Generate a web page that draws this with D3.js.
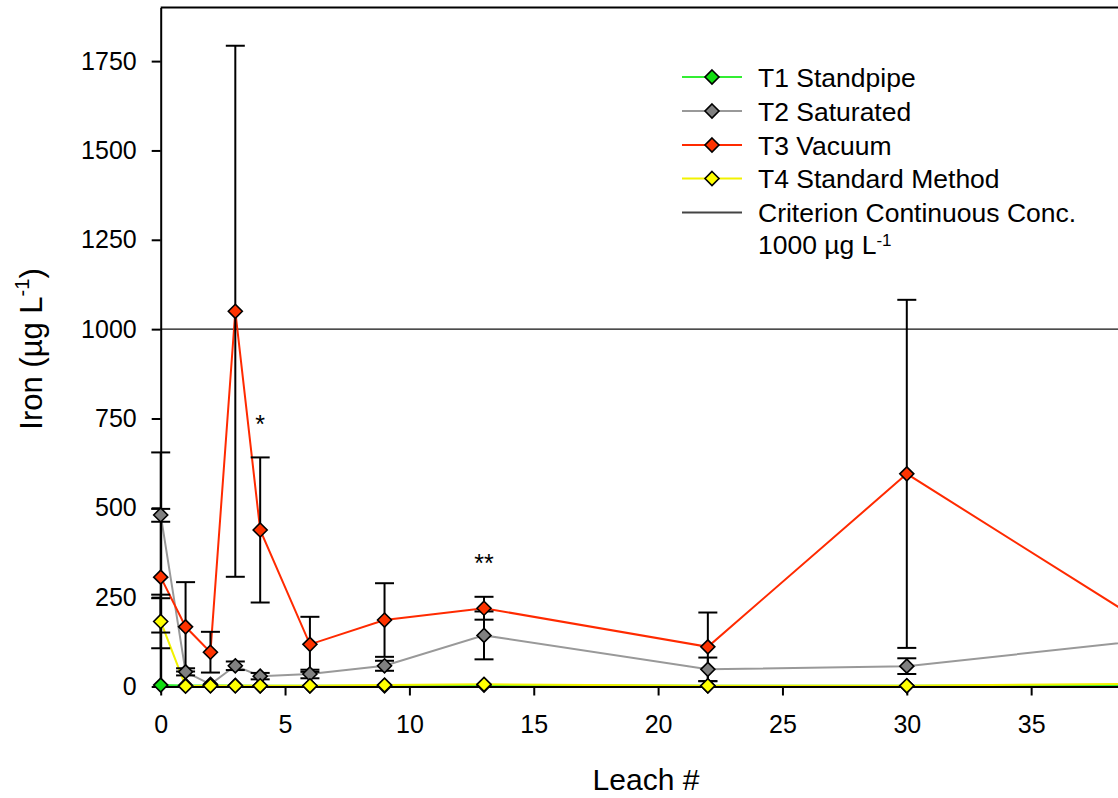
<!DOCTYPE html>
<html><head><meta charset="utf-8">
<script src="https://cdn.jsdelivr.net/npm/d3@7"></script>
<style>
html,body{margin:0;padding:0;background:#fff;}
svg{display:block;font-family:"Liberation Sans",Arial,Helvetica,sans-serif;}
</style></head>
<body>
<svg id="chart" width="1118" height="798"></svg>
<script>
// ---- data ----
const leach = [0, 1, 2, 3, 4, 6, 9, 13, 22, 30, 40];
const t1 = [4, 3, 3, 3, 2, 2, 2, 4, 2, 2, 4];
const t2 = [480, 41, 6, 58, 29, 35, 58, 143, 48, 57, 132];
const t3 = [306, 167, 96, 1050, 438, 118, 186, 219, 111, 595, 157];
const t4 = [182, 1, 2, 2, 2, 2, 4, 6, 2, 2, 8];
const t1ErrUp   = [243, 0, 0, 0, 0, 0, 0, 0, 0, 0, 0];
const t1ErrDown = [0, 0, 0, 0, 0, 0, 0, 0, 0, 0, 0];
const t2ErrUp   = [17, 10, 0, 12, 9, 12, 14, 67, 33, 22, 0];
const t2ErrDown = [19, 10, 0, 12, 9, 12, 14, 67, 33, 22, 0];
const t3ErrUp   = [349, 125, 57, 743, 203, 77, 103, 32, 96, 487, 0];
const t3ErrDown = [155, 125, 57, 743, 203, 77, 103, 32, 96, 487, 0];
const t4ErrUp   = [75, 0, 0, 0, 0, 0, 0, 0, 0, 0, 0];
const t4ErrDown = [75, 0, 0, 0, 0, 0, 0, 0, 0, 0, 0];
const seriesNames = ["T1 Standpipe", "T2 Saturated", "T3 Vacuum", "T4 Standard Method"];
const criterion = 1000;
const criterionLabel = ["Criterion Continuous Conc.", "1000 µg L"];
const xTicks = [0, 5, 10, 15, 20, 25, 30, 35];
const yTicks = [0, 250, 500, 750, 1000, 1250, 1500, 1750];
const annotations = [{x: 4, y: 746, text: "*"}, {x: 13, y: 357, text: "**"}];

// ---- styles ----
const lineColors = ["#33ee33", "#999999", "#ff2a00", "#f2f200"];
const fillColors = ["#11dd11", "#808080", "#ff3300", "#ffff00"];

const svg = d3.select("#chart");
const x0 = 160.7, pxPerUnit = 24.87;
const x = d3.scaleLinear().domain([0, 40]).range([x0, x0 + 40 * pxPerUnit]);
const y = d3.scaleLinear().domain([0, 1900]).range([686.5, 7.5]);

const series = [
  {name: seriesNames[0], vals: t1, up: t1ErrUp, dn: t1ErrDown},
  {name: seriesNames[1], vals: t2, up: t2ErrUp, dn: t2ErrDown},
  {name: seriesNames[2], vals: t3, up: t3ErrUp, dn: t3ErrDown},
  {name: seriesNames[3], vals: t4, up: t4ErrUp, dn: t4ErrDown}
];
series.forEach((s, i) => { s.line = lineColors[i]; s.fill = fillColors[i]; });

// criterion line
svg.append("line")
  .attr("x1", x(0)).attr("x2", x(40))
  .attr("y1", y(criterion)).attr("y2", y(criterion))
  .attr("stroke", "#111").attr("stroke-width", 1.3);

// top frame
svg.append("line")
  .attr("x1", x(0)).attr("x2", x(40))
  .attr("y1", y(1900)).attr("y2", y(1900))
  .attr("stroke", "#000").attr("stroke-width", 2);

// lines
const lineGen = d3.line().x(d => x(d[0])).y(d => y(d[1]));
series.forEach(s => {
  svg.append("path")
    .attr("d", lineGen(leach.map((l, j) => [l, s.vals[j]])))
    .attr("fill", "none").attr("stroke", s.line).attr("stroke-width", 2);
});

// error bars
const capHalf = 9.5;
const eg = svg.append("g").attr("stroke", "#000").attr("stroke-width", 2);
series.forEach(s => {
  leach.forEach((l, j) => {
    const hi = s.vals[j] + s.up[j], lo = s.vals[j] - s.dn[j];
    if (s.up[j] === 0 && s.dn[j] === 0) return;
    const cx = x(l);
    eg.append("line").attr("x1", cx).attr("x2", cx)
      .attr("y1", y(Math.max(lo, 0))).attr("y2", y(hi));
    [hi, lo].forEach((v, k) => {
      const e = k === 0 ? s.up[j] : s.dn[j];
      if (e === 0 || v < 0) return;
      eg.append("line").attr("x1", cx - capHalf).attr("x2", cx + capHalf)
        .attr("y1", y(v)).attr("y2", y(v));
    });
  });
});

// axes
const yAxis = d3.axisLeft(y).tickValues(yTicks).tickFormat(d3.format("d"))
  .tickSize(9).tickSizeOuter(0).tickPadding(15);
const gy = svg.append("g").attr("transform", `translate(${x0},0)`).call(yAxis);
const xAxis = d3.axisBottom(x).tickValues(xTicks).tickFormat(d3.format("d"))
  .tickSize(9).tickSizeOuter(0).tickPadding(20);
const gx = svg.append("g").attr("transform", `translate(0,${y(0)})`).call(xAxis);
[gx, gy].forEach(g => {
  g.select(".domain").attr("stroke", "#000").attr("stroke-width", 2);
  g.selectAll(".tick line").attr("stroke", "#000").attr("stroke-width", 2);
  g.selectAll(".tick text").attr("fill", "#000").style("font-size", "25px")
    .style("font-family", '"Liberation Sans",Arial,sans-serif');
});

// diamonds
const diamond = "M0,-7L7,0L0,7L-7,0Z";
series.forEach(s => {
  svg.append("g").selectAll("path").data(leach.map((l, j) => [l, s.vals[j]]))
    .join("path")
    .attr("d", diamond)
    .attr("transform", d => `translate(${x(d[0])},${y(d[1])})`)
    .attr("fill", s.fill).attr("stroke", "#000").attr("stroke-width", 1.6)
    .attr("stroke-linejoin", "miter");
});

// annotations
annotations.forEach(a => {
  svg.append("text").attr("x", x(a.x)).attr("y", y(a.y) + 12.8)
    .attr("text-anchor", "middle").style("font-size", "25px").text(a.text);
});

// axis titles
svg.append("text").attr("x", 646).attr("y", 790)
  .attr("text-anchor", "middle").style("font-size", "30px").text("Leach #");
const yt = svg.append("text").attr("transform", "rotate(-90)")
  .attr("x", -349).attr("y", 42).attr("text-anchor", "middle").style("font-size", "31px");
yt.append("tspan").text("Iron (µg L");
yt.append("tspan").attr("dy", -13).style("font-size", "20px").text("-1");
yt.append("tspan").attr("dy", 13).text(")");

// legend
const lg = svg.append("g");
const rowY = [77, 111, 145, 178.5, 212.5];
series.forEach((s, i) => {
  lg.append("line").attr("x1", 682).attr("x2", 742).attr("y1", rowY[i]).attr("y2", rowY[i])
    .attr("stroke", s.line).attr("stroke-width", 2);
  lg.append("path").attr("d", diamond).attr("transform", `translate(712,${rowY[i]})`)
    .attr("fill", s.fill).attr("stroke", "#000").attr("stroke-width", 1.6);
  lg.append("text").attr("x", 758).attr("y", rowY[i] + 9.7).style("font-size", "26.5px").text(s.name);
});
lg.append("line").attr("x1", 682).attr("x2", 742).attr("y1", rowY[4]).attr("y2", rowY[4])
  .attr("stroke", "#444").attr("stroke-width", 2);
lg.append("text").attr("x", 758).attr("y", rowY[4] + 9.7).style("font-size", "26.5px").text(criterionLabel[0]);
const l2 = lg.append("text").attr("x", 758).attr("y", 254).style("font-size", "26.5px");
l2.append("tspan").text(criterionLabel[1]);
l2.append("tspan").attr("dy", -8).style("font-size", "17px").text("-1");
</script>
</body></html>
